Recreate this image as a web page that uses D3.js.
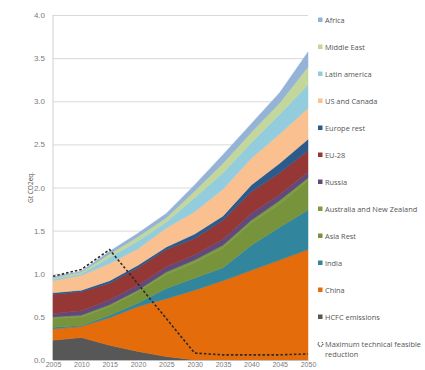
<!DOCTYPE html>
<html>
<head>
<meta charset="utf-8">
<script src="https://cdn.jsdelivr.net/npm/d3@7/dist/d3.min.js"></script>
<style>
  html, body { margin: 0; padding: 0; background: #ffffff; }
  svg { display: block; font-family: "Open Sans", "Noto Sans", sans-serif; }
</style>
</head>
<body>
<svg id="chart" width="425" height="370"></svg>
<script>
// Years on the horizontal axis
const years = [2005, 2010, 2015, 2020, 2025, 2030, 2035, 2040, 2045, 2050];

// Emissions by region, Gt CO2eq. (stacked from the bottom up)
const hcfc        = [0.23, 0.26, 0.17, 0.10, 0.04, 0.00, 0.00, 0.00, 0.00, 0.00];
const china       = [0.13, 0.13, 0.32, 0.52, 0.67, 0.81, 0.92, 1.04, 1.16, 1.28];
const india       = [0.02, 0.01, 0.03, 0.04, 0.12, 0.14, 0.15, 0.29, 0.38, 0.46];
const asiaRest    = [0.10, 0.10, 0.10, 0.13, 0.16, 0.18, 0.23, 0.26, 0.27, 0.34];
const australiaNZ = [0.02, 0.02, 0.02, 0.02, 0.03, 0.03, 0.03, 0.03, 0.04, 0.03];
const russia      = [0.04, 0.05, 0.06, 0.06, 0.06, 0.06, 0.07, 0.08, 0.07, 0.07];
const eu28        = [0.22, 0.22, 0.19, 0.20, 0.20, 0.19, 0.22, 0.25, 0.25, 0.25];
const europeRest  = [0.02, 0.02, 0.03, 0.03, 0.03, 0.05, 0.05, 0.08, 0.11, 0.13];
const usCanada    = [0.14, 0.17, 0.20, 0.19, 0.22, 0.26, 0.31, 0.31, 0.34, 0.36];
const latinAm     = [0.02, 0.02, 0.07, 0.09, 0.07, 0.16, 0.19, 0.18, 0.23, 0.27];
const middleEast  = [0.01, 0.02, 0.04, 0.05, 0.05, 0.08, 0.11, 0.12, 0.13, 0.21];
const africa      = [0.01, 0.01, 0.03, 0.04, 0.05, 0.07, 0.10, 0.10, 0.12, 0.17];

// Maximum technical feasible reduction path
const maxReduction = [0.97, 1.05, 1.28, 0.88, 0.48, 0.08, 0.06, 0.06, 0.06, 0.07];

// Y axis ticks
const yTicks = [0, 0.5, 1, 1.5, 2, 2.5, 3, 3.5, 4];

// Series names in stacking order, with their values and fill colours
const seriesNames = ["HCFC emissions", "China", "India", "Asia Rest", "Australia and New Zealand",
  "Russia", "EU-28", "Europe rest", "US and Canada", "Latin america", "Middle East", "Africa"];
const seriesValues = [hcfc, china, india, asiaRest, australiaNZ, russia, eu28, europeRest,
  usCanada, latinAm, middleEast, africa];
const seriesColors = ["#575757", "#e46c0a", "#31859c", "#77933c", "#7d9b40", "#604a7b",
  "#953735", "#2b5a8c", "#fac090", "#93cddd", "#c3d69b", "#95b3d7"];

const rows = years.map((yr, i) => {
  const r = { year: yr };
  seriesNames.forEach((n, k) => { r[n] = seriesValues[k][i]; });
  return r;
});

const svg = d3.select("#chart");
const margin = { left: 53, right: 117, top: 15, bottom: 10 };
const W = 425, H = 370;

const x = d3.scaleLinear().domain([2005, 2050]).range([margin.left, W - margin.right]);
const y = d3.scaleLinear().domain([0, 4]).range([H - margin.bottom, margin.top]);

// Gridlines and y labels
const yAxis = svg.append("g")
  .attr("transform", `translate(${margin.left},0)`)
  .call(d3.axisLeft(y).tickValues(yTicks).tickFormat(d3.format(".1f"))
    .tickSize(-(W - margin.right - margin.left)).tickPadding(8));
yAxis.select(".domain").remove();
yAxis.selectAll(".tick line").attr("stroke", "#d9d9d9").attr("stroke-width", 1);
yAxis.selectAll(".tick text").attr("fill", "#7a7a7a").attr("font-size", 8);

// Left axis line
svg.append("line")
  .attr("x1", margin.left).attr("x2", margin.left)
  .attr("y1", y(4)).attr("y2", y(0))
  .attr("stroke", "#d0d0d0");

// Stacked areas
const stack = d3.stack().keys(seriesNames);
const layers = stack(rows);
const area = d3.area()
  .x(d => x(d.data.year))
  .y0(d => y(d[0]))
  .y1(d => y(d[1]));

svg.append("g").selectAll("path")
  .data(layers)
  .join("path")
  .attr("d", area)
  .attr("fill", (d, i) => seriesColors[i])
  .attr("stroke", (d, i) => seriesColors[i])
  .attr("stroke-width", 0.5);

// Bottom axis
const xAxis = svg.append("g")
  .attr("transform", `translate(0,${y(0)})`)
  .call(d3.axisBottom(x).tickValues(years).tickFormat(d3.format("d")).tickSize(0).tickPadding(2));
xAxis.select(".domain").attr("stroke", "#bfbfbf");
xAxis.selectAll(".tick text").attr("fill", "#7a7a7a").attr("font-size", 7);

// Dashed reduction path
const line = d3.line().x((d, i) => x(years[i])).y(d => y(d));
svg.append("path")
  .datum(maxReduction)
  .attr("d", line)
  .attr("fill", "none")
  .attr("stroke", "#2a2a2a")
  .attr("stroke-width", 1.6)
  .attr("stroke-dasharray", "2.5,2");

// Y axis title
svg.append("text")
  .attr("transform", `translate(33,${y(2)}) rotate(-90)`)
  .attr("text-anchor", "middle")
  .attr("font-size", 6.5)
  .attr("fill", "#555")
  .text("Gt CO2eq.");

// Legend, top entry is the top layer
const legendItems = seriesNames.map((n, i) => ({ name: n, color: seriesColors[i] })).reverse();
const legend = svg.append("g");
const lx = 318, ly0 = 20, lstep = 27;
legendItems.forEach((it, i) => {
  const yy = ly0 + i * lstep;
  legend.append("rect")
    .attr("x", lx).attr("y", yy - 2.5).attr("width", 4.5).attr("height", 4.5)
    .attr("fill", it.color);
  legend.append("text")
    .attr("x", lx + 7).attr("y", yy + 2.5)
    .attr("font-size", 7.4).attr("fill", "#555")
    .text(it.name);
});
const yLast = ly0 + legendItems.length * lstep;
legend.append("path")
  .attr("transform", `translate(${lx + 2.5},${yLast})`)
  .attr("d", d3.arc()({ innerRadius: 2.4, outerRadius: 2.4, startAngle: 0.6, endAngle: 5.6 }))
  .attr("fill", "none").attr("stroke", "#444").attr("stroke-width", 1).attr("stroke-dasharray", "1,1");
legend.append("text")
  .attr("x", lx + 7).attr("y", yLast + 2.5)
  .attr("font-size", 7.4).attr("fill", "#555")
  .text("Maximum technical feasible");
legend.append("text")
  .attr("x", lx + 7).attr("y", yLast + 13)
  .attr("font-size", 7.4).attr("fill", "#555")
  .text("reduction");
</script>
</body>
</html>
